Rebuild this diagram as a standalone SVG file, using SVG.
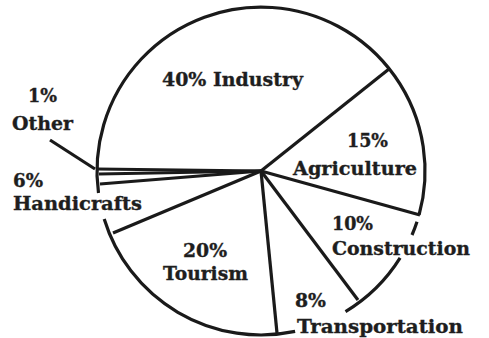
<svg xmlns="http://www.w3.org/2000/svg" width="489" height="338" viewBox="0 0 489 338">
<style>
.ln{fill:none;stroke:#1a1a1a;stroke-width:3.2;stroke-linecap:butt;stroke-linejoin:round}
.lb{font-family:"DejaVu Serif","Liberation Serif",serif;font-weight:bold;font-size:18px;fill:#1e1e1e;stroke:#1e1e1e;stroke-width:0.35}
</style>
<rect width="489" height="338" fill="#ffffff"/>
<g id="connectors">
<path class="ln" d="M98.5,193 A164,164 0 1,1 419.1,214.8"/>
<path class="ln" d="M417,221.7 A164,164 0 0,1 412,235"/>
<path class="ln" d="M400.1,257.9 A164,164 0 0,1 345.5,311.6"/>
<path class="ln" d="M295.1,331.4 A164,164 0 0,1 104.2,219"/>
<path class="ln" d="M261,171 L389,69"/>
<path class="ln" d="M261,171 L420,215"/>
<path class="ln" d="M261,171 L358,300"/>
<path class="ln" d="M261,171 L277,333"/>
<path class="ln" d="M261,171 L113,233"/>
<path class="ln" d="M261,171 L100,184"/>
<path class="ln" d="M261,171 L99,174"/>
<path class="ln" d="M261,171 L97,169"/>
<path class="ln" d="M50,140 L95,169"/>
</g>
<g id="industry"><text class="lb" x="162" y="86" textLength="141" lengthAdjust="spacingAndGlyphs">40% Industry</text></g>
<g id="other"><text class="lb" x="28" y="102" textLength="29" lengthAdjust="spacingAndGlyphs">1%</text><text class="lb" x="12" y="130" textLength="61" lengthAdjust="spacingAndGlyphs">Other</text></g>
<g id="agriculture"><text class="lb" x="347" y="147" textLength="41" lengthAdjust="spacingAndGlyphs">15%</text><text class="lb" x="293" y="175" textLength="124" lengthAdjust="spacingAndGlyphs">Agriculture</text></g>
<g id="handicrafts"><text class="lb" x="13" y="187" textLength="30" lengthAdjust="spacingAndGlyphs">6%</text><text class="lb" x="13" y="210" textLength="129" lengthAdjust="spacingAndGlyphs">Handicrafts</text></g>
<g id="tourism"><text class="lb" x="183" y="257" textLength="44" lengthAdjust="spacingAndGlyphs">20%</text><text class="lb" x="163" y="280" textLength="85" lengthAdjust="spacingAndGlyphs">Tourism</text></g>
<g id="construction"><text class="lb" x="332" y="230" textLength="41" lengthAdjust="spacingAndGlyphs">10%</text><text class="lb" x="332" y="255" textLength="138" lengthAdjust="spacingAndGlyphs">Construction</text></g>
<g id="transportation"><text class="lb" x="295" y="307" textLength="31" lengthAdjust="spacingAndGlyphs">8%</text><text class="lb" x="297" y="333" textLength="166" lengthAdjust="spacingAndGlyphs">Transportation</text></g>
</svg>
